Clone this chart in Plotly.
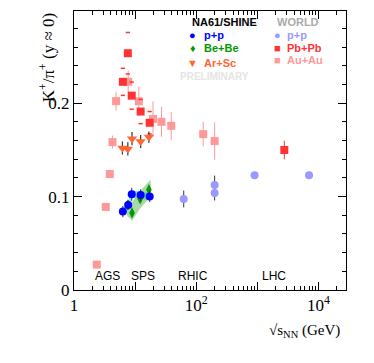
import plotly.graph_objects as go

# NA61/SHINE
pp_x = [6.3, 7.7, 8.8, 12.3, 17.3]
pp_y = [0.0839, 0.0910, 0.1024, 0.1017, 0.1002]
pp_err = [0.006, 0.005, 0.007, 0.006, 0.006]
pp_sys = [0.004, 0.004, 0.004, 0.004, 0.004]

bebe_x = [7.6, 8.9, 12.1, 16.8]
bebe_y = [0.0910, 0.0825, 0.0974, 0.1074]
bebe_err = [0.004, 0.004, 0.004, 0.004]
band_x = [7.3, 8.9, 12.0, 18.0]
band_lo = [0.080, 0.074, 0.087, 0.100]
band_hi = [0.096, 0.094, 0.106, 0.118]

arsc_x = [6.2, 7.6, 8.9, 12.3, 16.8]
arsc_y = [0.152, 0.151, 0.162, 0.159, 0.1637]
arsc_err = [0.007, 0.007, 0.007, 0.007, 0.006]

# WORLD
wpp_x = [62.4, 200, 200, 900, 7000]
wpp_y = [0.0974, 0.1124, 0.1038, 0.1227, 0.1227]
wpp_err = [0.009, 0.010, 0.008, 0.002, 0.002]

pbpb_x = [6.3, 7.6, 8.8, 12.3, 17.3, 2760]
pbpb_y = [0.2228, 0.2534, 0.2080, 0.1910, 0.1790, 0.1498]
pbpb_err = [0.002, 0.003, 0.002, 0.002, 0.002, 0.010]
pbpb_sys = [0.0145, 0.0222, 0.0145, 0.0130, 0.0120, 0.0]

auau_x = [2.36, 3.31, 3.85, 4.26, 4.88, 7.7, 11.5, 19.6, 27, 39, 130, 200]
auau_y = [0.0272, 0.0889, 0.1241, 0.1583, 0.2021, 0.2228, 0.2020, 0.1830, 0.1800, 0.1757, 0.1668, 0.1594]
auau_err = [0.002, 0.003, 0.004, 0.007, 0.010, 0.012, 0.016, 0.019, 0.016, 0.015, 0.013, 0.020]

RED = "#ff3333"
PINK = "#ff9999"
ORANGE = "#ff6633"
BLUE = "#0000ff"
GREEN = "#009900"
LBLUE = "#9999ff"

fig = go.Figure()

fig.add_trace(go.Scatter(x=auau_x, y=auau_y, mode="markers",
                         marker=dict(symbol="square", size=8, color=PINK),
                         error_y=dict(array=auau_err, color=PINK, thickness=1, width=0)))

# Pb+Pb systematic caps
sys_y = [y + s for y, s in zip(pbpb_y, pbpb_sys)] + [y - s for y, s in zip(pbpb_y, pbpb_sys)]
sys_x = pbpb_x + pbpb_x
fig.add_trace(go.Scatter(x=[x for x, s in zip(sys_x, pbpb_sys + pbpb_sys) if s > 0],
                         y=[y for y, s in zip(sys_y, pbpb_sys + pbpb_sys) if s > 0],
                         mode="markers",
                         marker=dict(symbol="line-ew", size=3, line=dict(color=RED, width=1.5))))

fig.add_trace(go.Scatter(x=pbpb_x, y=pbpb_y, mode="markers",
                         marker=dict(symbol="square", size=8, color=RED),
                         error_y=dict(array=pbpb_err, color=RED, thickness=1, width=0)))

fig.add_trace(go.Scatter(x=arsc_x, y=arsc_y, mode="markers",
                         marker=dict(symbol="triangle-down", size=9, color=ORANGE),
                         error_y=dict(array=arsc_err, color="#333333", thickness=1.2, width=0)))

fig.add_trace(go.Scatter(x=wpp_x, y=wpp_y, mode="markers",
                         marker=dict(symbol="circle", size=8, color=LBLUE),
                         error_y=dict(array=wpp_err, color="#333333", thickness=1, width=0)))

# p+p systematic band
fig.add_trace(go.Scatter(x=pp_x + pp_x[::-1],
                         y=[y + s for y, s in zip(pp_y, pp_sys)] + [y - s for y, s in zip(pp_y, pp_sys)][::-1],
                         mode="lines", fill="toself", fillcolor="rgba(80,230,255,0.8)",
                         line=dict(width=0)))

# Be+Be band
fig.add_trace(go.Scatter(x=band_x + band_x[::-1], y=band_hi + band_lo[::-1],
                         mode="lines", fill="toself", fillcolor="rgba(60,170,60,0.45)",
                         line=dict(width=0)))

fig.add_trace(go.Scatter(x=bebe_x, y=bebe_y, mode="markers",
                         marker=dict(symbol="diamond-tall", size=8, color=GREEN),
                         error_y=dict(array=bebe_err, color="#333333", thickness=1, width=0)))

fig.add_trace(go.Scatter(x=pp_x, y=pp_y, mode="markers",
                         marker=dict(symbol="circle", size=8, color=BLUE),
                         error_y=dict(array=pp_err, color="#333333", thickness=1, width=0)))

# legend text (paper coords, left anchored)
sans = "Liberation Sans"
serif = "Liberation Serif"
leg = [
    (0.426, 0.962, "<b>NA61/SHINE</b>", "black", 11, "left"),
    (0.436, 0.914, "●", BLUE, 11, "center"),
    (0.469, 0.914, "<b>p+p</b>", BLUE, 11, "left"),
    (0.436, 0.868, "♦", GREEN, 11, "center"),
    (0.469, 0.868, "<b>Be+Be</b>", GREEN, 11, "left"),
    (0.436, 0.815, "▼", ORANGE, 11, "center"),
    (0.469, 0.815, "<b>Ar+Sc</b>", ORANGE, 11, "left"),
    (0.382, 0.767, "<b>PRELIMINARY</b>", "#e4e4e4", 10, "left"),
    (0.740, 0.962, "<b>WORLD</b>", "#aaaaaa", 11, "left"),
    (0.749, 0.914, "●", LBLUE, 11, "center"),
    (0.776, 0.914, "<b>p+p</b>", LBLUE, 11, "left"),
    (0.749, 0.868, "■", RED, 11, "center"),
    (0.776, 0.868, "<b>Pb+Pb</b>", RED, 11, "left"),
    (0.749, 0.826, "■", PINK, 11, "center"),
    (0.776, 0.826, "<b>Au+Au</b>", PINK, 11, "left"),
]
anns = []
for x, y, t, c, s, a in leg:
    anns.append(dict(x=x, y=y, xref="paper", yref="paper", text=t, showarrow=False,
                     xanchor=a, yanchor="middle", font=dict(family=sans, size=s, color=c)))
for x, t in [(0.070, "AGS"), (0.2016, "SPS"), (0.375, "RHIC"), (0.684, "LHC")]:
    anns.append(dict(x=x, y=0.049, xref="paper", yref="paper", text=t, showarrow=False,
                     xanchor="left", yanchor="middle", font=dict(family=sans, size=12, color="black")))
anns.append(dict(x=-0.148, y=1.0, xref="paper", yref="paper", textangle=-90,
                 text="K<sup>+</sup>/π<sup>+</sup> (y ≈ 0)", showarrow=False,
                 xanchor="left", yanchor="top", font=dict(family=serif, size=17, color="black")))
anns.append(dict(x=0.709, y=-0.148, xref="paper", yref="paper",
                 text="√s<sub>NN</sub> (GeV)", showarrow=False,
                 xanchor="left", yanchor="middle", font=dict(family=serif, size=15, color="black")))

minor_x = [m * 10 ** k for k in range(0, 5) for m in range(2, 10) if m * 10 ** k < 28000]

# page body adds 8px offset, margins compensate
fig.update_layout(
    width=374, height=363,
    margin=dict(l=66, r=36, t=3, b=81, autoexpand=False),
    paper_bgcolor="white", plot_bgcolor="white",
    showlegend=False,
    annotations=anns,
    font=dict(family=serif, size=17, color="black"),
)
fig.update_xaxes(type="log", range=[0, 4.45],
                 tickmode="array", tickvals=[1, 10, 100, 1000, 10000],
                 ticktext=["1", " ", "10<sup>2</sup>", " ", "10<sup>4</sup>"],
                 ticks="inside", ticklen=8, tickcolor="black", tickwidth=1,
                 minor=dict(tickmode="array", tickvals=minor_x, ticks="inside", ticklen=4,
                            tickcolor="black", showgrid=False),
                 showline=True, linecolor="black", linewidth=1, mirror="allticks",
                 showgrid=False, zeroline=False, automargin=False)
fig.update_yaxes(range=[0, 0.2986],
                 tickmode="array", tickvals=[0, 0.1, 0.2], ticktext=["0", "0.1", "0.2"],
                 ticks="inside", ticklen=8, tickcolor="black", tickwidth=1,
                 minor=dict(dtick=0.02, ticks="inside", ticklen=4, tickcolor="black", showgrid=False),
                 showline=True, linecolor="black", linewidth=1, mirror="allticks",
                 showgrid=False, zeroline=False, automargin=False)

fig.write_html("out.html")
